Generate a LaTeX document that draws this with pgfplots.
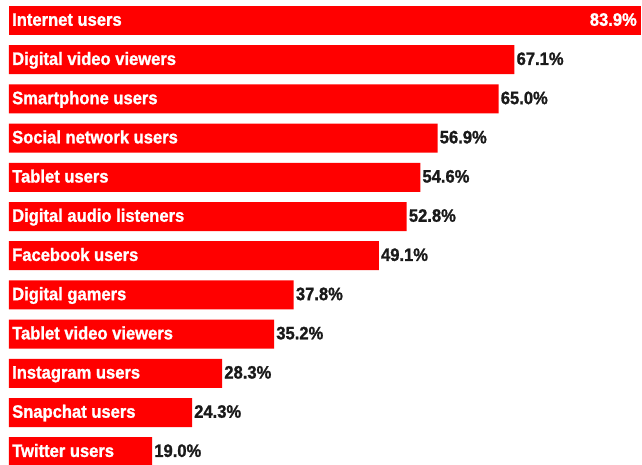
\documentclass[border=0pt]{standalone}
\usepackage{pgfplots}
\pgfplotsset{compat=1.18}
\usepackage{pgfplotstable}
\usepackage{fontspec}
\setmainfont{Liberation Sans}[BoldFeatures={FakeStretch=0.92,FakeBold=1.2}]
\definecolor{barred}{HTML}{FF0000}
\definecolor{txt}{HTML}{1A1A1A}
\pgfplotstableread[col sep=comma]{
idx,value,label
0,83.9,Internet users
1,67.1,Digital video viewers
2,65.0,Smartphone users
3,56.9,Social network users
4,54.6,Tablet users
5,52.8,Digital audio listeners
6,49.1,Facebook users
7,37.8,Digital gamers
8,35.2,Tablet video viewers
9,28.3,Instagram users
10,24.3,Snapchat users
11,19.0,Twitter users
}\data
\begin{document}
\begin{tikzpicture}
\useasboundingbox (-9pt,0pt) rectangle (633pt,464pt);
\begin{axis}[
  at={(0pt,0pt)}, anchor=south west,
  scale only axis, width=632pt, height=464pt,
  xmin=0, xmax=83.9, ymin=-0.523, ymax=11.314,
  y dir=reverse, axis lines=none, ticks=none,
  /pgf/number format/assume math mode=true,
  every node near coord/.append style={font=\bfseries\fontsize{18pt}{20pt}\selectfont,
    text height=13pt, text depth=2.5pt},
]
% first bar, value inside
\addplot[xbar, bar shift=0pt, bar width=29pt, fill=barred, draw=none,
  skip coords between index={1}{12},
  point meta=x,
  nodes near coords={\pgfmathprintnumber[fixed,fixed zerofill,precision=1]{\pgfplotspointmeta}\%},
  nodes near coords style={anchor=east, white, inner sep=0pt, xshift=-4pt}]
  table[x=value, y=idx] {\data};
% other bars, value outside
\addplot[xbar, bar shift=0pt, bar width=29pt, fill=barred, draw=none,
  skip coords between index={0}{1},
  point meta=x,
  nodes near coords={\pgfmathprintnumber[fixed,fixed zerofill,precision=1]{\pgfplotspointmeta}\%},
  nodes near coords style={anchor=west, txt, inner sep=0pt, xshift=2pt}]
  table[x=value, y=idx] {\data};
% category names inside bars
\addplot[draw=none, mark=none, only marks,
  point meta=explicit symbolic,
  nodes near coords,
  nodes near coords style={anchor=west, white, inner sep=0pt, xshift=3pt}]
  table[x expr=0, y=idx, meta=label] {\data};
\end{axis}
\end{tikzpicture}
\end{document}
